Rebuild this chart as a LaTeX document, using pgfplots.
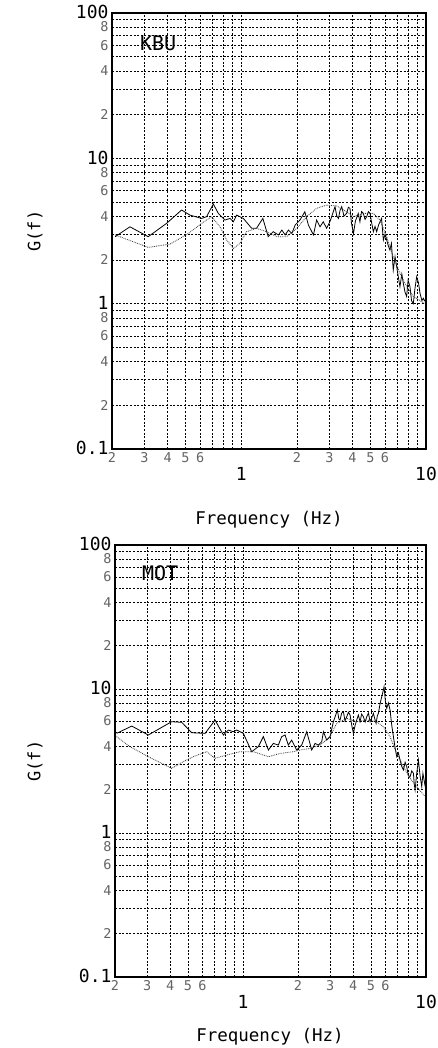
\documentclass[border=0pt]{standalone}
\usepackage{pgfplots}
\pgfplotsset{compat=1.18}
\usepackage{fontspec}
\setmainfont{DejaVu Sans Mono}
\definecolor{lblgray}{RGB}{100,100,100}
\tikzset{
  solidc/.style={black, line width=0.8pt},
  dotc/.style={black!80, densely dotted, line width=0.8pt},
}
\newcommand{\mx}[1]{\raisebox{-19pt}[9pt][0pt]{#1}}
\newcommand{\my}[1]{\raisebox{2pt}{#1}\hspace{2pt}}
\pgfplotsset{
  /pgf/number format/assume math mode=true,
  every axis/.append style={
    scale only axis,
    xmin=0.2, xmax=10, ymin=0.1, ymax=100,
    xtick={1,10}, xticklabels={\mx{1},\mx{10}},
    ytick={0.1,1,10,100}, yticklabels={\my{0.1},\my{1},\my{10},\my{100}},
    minor xtick={0.3,0.4,0.5,0.6,0.7,0.8,0.9,2,3,4,5,6,7,8,9},
    minor ytick={0.2,0.3,0.4,0.5,0.6,0.7,0.8,0.9,2,3,4,5,6,7,8,9,20,30,40,50,60,70,80,90},
    grid=both,
    major grid style={black, dash pattern=on 2pt off 1.6pt, line width=0.5pt},
    minor grid style={black, dash pattern=on 2pt off 1.6pt, line width=0.5pt},
    major tick length=0pt, minor tick length=0pt,
    axis line style={line width=1.3pt},
    extra x ticks={0.2,0.3,0.4,0.5,0.6,2,3,4,5,6},
    extra x tick labels={2,3,4,5,6,2,3,4,5,6},
    extra y ticks={0.2,0.4,0.6,0.8,2,4,6,8,20,40,60,80},
    extra y tick labels={2,4,6,8,2,4,6,8,2,4,6,8},
    extra tick style={grid=none, tick label style={font=\fontsize{13.5}{13.5}\selectfont, text=lblgray}},
    tick label style={font=\fontsize{18}{18}\selectfont},
  },
}
\begin{document}
\begin{tikzpicture}
\useasboundingbox (0,0) rectangle (438pt,-1048pt);
% ---------------- KBU ----------------
\begin{loglogaxis}[at={(112pt,-449pt)}, anchor=south west, width=314pt, height=436pt]
\addplot[solidc] table {
0.208 2.89
0.250 3.38
0.314 2.89
0.395 3.57
0.476 4.41
0.528 4.07
0.611 3.86
0.650 3.97
0.707 4.85
0.752 4.18
0.817 3.76
0.870 3.86
0.907 3.66
0.945 4.07
1.027 3.86
1.14 3.30
1.21 3.30
1.31 3.86
1.40 2.89
1.49 3.13
1.59 2.97
1.66 3.21
1.73 2.97
1.80 3.21
1.88 3.04
1.96 3.48
2.08 3.76
2.21 4.29
2.31 3.48
2.46 2.97
2.56 3.76
2.67 3.38
2.78 3.66
2.90 3.30
3.02 3.66
3.22 4.65
3.29 4.0
3.36 3.86
3.43 4.4
3.50 4.65
3.60 4.0
3.72 4.18
3.80 4.6
3.88 4.53
3.95 3.6
4.05 3.04
4.15 3.7
4.30 4.18
4.39 3.66
4.48 4.3
4.58 4.18
4.68 3.8
4.78 3.97
4.88 4.3
4.98 4.18
5.08 3.6
5.19 3.13
5.30 3.4
5.41 3.13
5.55 3.5
5.75 3.86
5.82 3.2
5.88 2.74
6.00 3.0
6.13 2.74
6.25 2.5
6.38 2.34
6.50 2.6
6.65 1.70
6.80 2.1
6.94 1.80
7.10 1.5
7.23 1.31
7.40 1.6
7.54 1.38
7.70 1.2
7.86 1.12
8.00 1.45
8.19 1.31
8.35 1.05
8.54 1.00
8.70 1.25
8.90 1.53
9.10 1.40
9.28 1.18
9.50 1.05
9.67 1.09
9.85 1.04
};
\addplot[dotc] table {
0.208 2.97
0.314 2.44
0.412 2.57
0.518 3.04
0.611 3.57
0.692 3.97
0.768 3.38
0.834 2.74
0.907 2.40
0.985 2.60
1.07 3.13
1.21 3.30
1.37 3.13
1.56 2.89
1.76 2.89
2.00 3.30
2.26 3.97
2.56 4.53
2.90 4.77
3.29 4.70
3.72 4.29
4.05 3.97
4.58 4.18
5.19 4.18
5.64 3.76
6.13 2.89
6.65 2.10
7.23 1.62
7.86 1.31
8.54 1.12
9.88 1.00
};
\node[font=\fontsize{20}{20}\selectfont] at (rel axis cs:0.147,0.931) {KBU};
\end{loglogaxis}
\node[rotate=90, font=\fontsize{17}{17}\selectfont] at (35pt,-231pt) {G(f)};
\node[font=\fontsize{17.5}{17.5}\selectfont] at (269pt,-520pt) {Frequency (Hz)};
% ---------------- MOT ----------------
\begin{loglogaxis}[at={(115pt,-977pt)}, anchor=south west, width=311pt, height=432pt]
\addplot[solidc] table {
0.204 4.92
0.247 5.53
0.304 4.79
0.352 5.33
0.408 5.93
0.463 5.87
0.525 4.97
0.621 4.92
0.704 6.09
0.782 4.79
0.832 5.19
0.886 5.05
0.924 5.19
1.005 4.92
1.116 3.67
1.214 3.98
1.293 4.67
1.377 3.77
1.466 4.19
1.561 4.08
1.628 4.67
1.698 4.79
1.770 4.08
1.846 4.42
1.966 3.77
2.094 4.08
2.230 5.05
2.375 3.77
2.477 4.19
2.583 4.08
2.694 4.31
2.751 5.05
2.869 4.42
2.992 4.67
3.119 5.93
3.200 6.5
3.281 7.15
3.340 6.2
3.393 6.09
3.460 6.8
3.538 6.96
3.610 6.0
3.690 6.42
3.770 6.9
3.848 6.60
3.930 5.6
4.012 4.92
4.100 5.6
4.184 6.09
4.270 6.6
4.363 5.93
4.450 6.7
4.550 6.42
4.650 5.9
4.745 6.42
4.850 6.8
4.948 5.93
5.050 6.3
5.160 6.78
5.250 6.2
5.336 5.77
5.420 6.5
5.495 6.78
5.600 7.8
5.731 8.85
5.820 9.6
5.901 10.38
6.000 8.2
6.103 7.34
6.230 8.0
6.364 7.15
6.500 5.6
6.637 4.67
6.780 3.9
6.921 3.39
7.070 3.6
7.217 3.21
7.370 2.9
7.527 2.74
7.690 3.1
7.849 2.89
8.010 2.5
8.185 2.46
8.360 2.7
8.536 2.60
8.620 2.2
8.717 1.99
8.900 2.6
9.090 3.21
9.280 2.5
9.478 2.10
9.620 2.6
9.761 2.33
9.900 2.1
};
\addplot[dotc] table {
0.204 4.67
0.2415 3.98
0.304 3.39
0.408 2.81
0.472 3.13
0.536 3.39
0.634 3.67
0.704 3.30
0.815 3.48
0.964 3.67
1.14 3.67
1.377 3.39
1.594 3.57
1.886 3.67
2.05 3.77
2.33 3.87
2.64 4.08
2.99 4.67
3.25 5.77
3.69 6.25
4.18 5.93
4.75 6.09
5.38 5.93
5.85 5.47
6.36 4.67
6.92 3.57
7.53 2.89
8.19 2.40
8.90 2.10
9.88 1.79
};
\node[font=\fontsize{20}{20}\selectfont] at (rel axis cs:0.145,0.935) {MOT};
\end{loglogaxis}
\node[rotate=90, font=\fontsize{17}{17}\selectfont] at (35pt,-761pt) {G(f)};
\node[font=\fontsize{17.5}{17.5}\selectfont] at (270pt,-1037pt) {Frequency (Hz)};
\end{tikzpicture}
\end{document}
